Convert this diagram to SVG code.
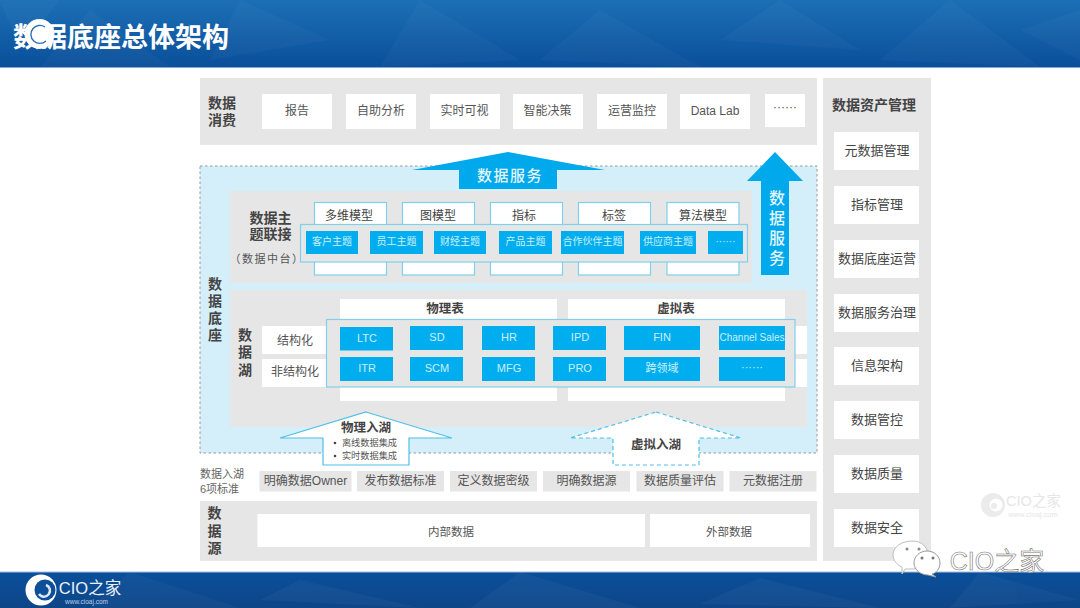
<svg xmlns="http://www.w3.org/2000/svg" width="1080" height="608" viewBox="0 0 1080 608">
<style>
text{font-family:"Liberation Sans","Noto Sans CJK SC",sans-serif;text-anchor:middle;dominant-baseline:central}
.panel{fill:#e6e6e6}
.white{fill:#fff}
.h{font-size:14px;font-weight:700;fill:#444}
.item{font-size:12px;fill:#555}
.side{font-size:13px;fill:#444}
.model{fill:#fff;stroke:#7fd0ea;stroke-width:1.2}
.over{fill:#e6e6e6;stroke:#7fd0ea;stroke-width:1.2}
.chip{fill:#00aeef}
.t1{font-size:10px;fill:#cdeefb}
.t2{font-size:11px;fill:#cdeefb}
.sec{font-size:12.5px;font-weight:700;fill:#444}
.svc{fill:#00a8ec}
.svct{font-weight:500;fill:#e4f6fd}
.std{font-size:12px;fill:#555}
.blt{font-size:9.2px;fill:#555}
</style>
<defs>
<linearGradient id="bar" x1="0" y1="0" x2="0" y2="1"><stop offset="0" stop-color="#1c6fb5"/><stop offset="1" stop-color="#0a4f9b"/></linearGradient>
<linearGradient id="bar2" x1="0" y1="0" x2="0" y2="1"><stop offset="0" stop-color="#0a4f9b"/><stop offset="1" stop-color="#0e4688"/></linearGradient>
</defs>
<rect width="1080" height="608" fill="#fff"/>

<g id="header">
<rect width="1080" height="67.500" fill="url(#bar)"/>
<g fill="#fff" opacity=".025">
<polygon points="0,0 60,0 20,50"/><polygon points="90,10 170,67 40,67"/><polygon points="240,0 330,40 210,60"/><polygon points="420,0 520,60 380,67"/><polygon points="600,10 700,67 540,60"/><polygon points="780,0 860,50 720,40"/><polygon points="950,0 1040,67 880,60"/><polygon points="1080,10 1080,60 1020,30"/>
</g>
<text x="121" y="37.500" font-size="27" font-weight="700" fill="#fff">数据底座总体架构</text>
<circle cx="39.500" cy="34" r="15" fill="#fff"/>
<path d="M45 27a9 9 0 1 0 1 14" fill="none" stroke="#2a6fb0" stroke-width="1.400"/>
</g>

<g id="footer">
<rect y="572" width="1080" height="36" fill="url(#bar2)"/>
<rect y="571.500" width="1080" height="1" fill="#9fc0dd"/>
<g fill="#fff" opacity=".03">
<polygon points="130,572 240,608 90,608"/><polygon points="300,580 420,608 260,600"/><polygon points="520,572 640,608 470,608"/><polygon points="760,578 880,608 700,604"/><polygon points="980,572 1080,600 950,608"/>
</g>
<circle cx="41" cy="590" r="15.500" fill="#fff"/>
<circle cx="45" cy="590" r="10.500" fill="#0d4f98"/>
<path d="M39 594a6 6 0 1 0 7-9" fill="none" stroke="#dbe7f3" stroke-width="2.500"/>
<text x="90" y="587.500" font-size="16.500" fill="#e8f0f8">CIO之家</text>
<text x="86.500" y="601" font-size="6.500" fill="#b9cfe6">www.cioaj.com</text>
</g>

<g id="watermark" opacity=".9">
<circle cx="993" cy="505" r="12" fill="#e9e9e9"/>
<circle cx="996" cy="505" r="6.500" fill="#fff"/>
<circle cx="994" cy="506" r="3" fill="#e9e9e9"/>
<text x="1033.500" y="501" font-size="14.500" fill="#e4e4e4">CIO之家</text>
<text x="1033" y="514" font-size="7.500" fill="#e4e4e4">www.cioaj.com</text>
</g>

<g id="consume">
<rect class="panel" x="200" y="78" width="617" height="67"/>
<text class="h" x="222" y="102.500">数据</text><text class="h" x="222" y="119.500">消费</text>
<g id="c1"><rect class="white" x="262" y="94" width="70" height="35"/><text class="item" x="297" y="110.500">报告</text></g>
<g id="c2"><rect class="white" x="346" y="94" width="70" height="35"/><text class="item" x="381" y="110.500">自助分析</text></g>
<g id="c3"><rect class="white" x="430" y="94" width="70" height="35"/><text class="item" x="464.500" y="110.500">实时可视</text></g>
<g id="c4"><rect class="white" x="513" y="94" width="70" height="35"/><text class="item" x="547.500" y="110.500">智能决策</text></g>
<g id="c5"><rect class="white" x="597" y="94" width="70" height="35"/><text class="item" x="632" y="110.500">运营监控</text></g>
<g id="c6"><rect class="white" x="680" y="94" width="70" height="35"/><text class="item" x="715" y="110.500">Data Lab</text></g>
<g id="c7"><rect class="white" x="765" y="94" width="40" height="33"/><text class="item" x="785" y="107" font-size="10">······</text></g>
</g>

<g id="asset">
<rect class="panel" x="823" y="78" width="108" height="483"/>
<text class="h" x="874" y="105">数据资产管理</text>
<g id="a1"><rect class="white" x="834" y="132" width="85" height="38"/><text class="side" x="877" y="150.500">元数据管理</text></g>
<g id="a2"><rect class="white" x="834" y="186" width="85" height="38"/><text class="side" x="877" y="204.500">指标管理</text></g>
<g id="a3"><rect class="white" x="834" y="240" width="85" height="38"/><text class="side" x="877" y="258.500">数据底座运营</text></g>
<g id="a4"><rect class="white" x="834" y="294" width="85" height="38"/><text class="side" x="877" y="312">数据服务治理</text></g>
<g id="a5"><rect class="white" x="834" y="347" width="85" height="38"/><text class="side" x="877" y="365.500">信息架构</text></g>
<g id="a6"><rect class="white" x="834" y="401" width="85" height="38"/><text class="side" x="877" y="419.500">数据管控</text></g>
<g id="a7"><rect class="white" x="834" y="455" width="85" height="38"/><text class="side" x="877" y="473.500">数据质量</text></g>
<g id="a8"><rect class="white" x="834" y="509" width="85" height="38"/><text class="side" x="877" y="527">数据安全</text></g>
</g>

<g id="base">
<rect x="200" y="166" width="617" height="287" fill="#d4eff9" stroke="#999" stroke-width="1" stroke-dasharray="2.500 2.500"/>
<text class="h" x="215" y="284">数</text><text class="h" x="215" y="301">据</text><text class="h" x="215" y="318">底</text><text class="h" x="215" y="335">座</text>
</g>

<g id="topic">
<rect class="panel" x="230" y="191" width="522" height="92"/>
<text class="h" x="270.500" y="218">数据主</text><text class="h" x="270.500" y="234">题联接</text>
<text x="267" y="258.500" font-size="11" fill="#555" letter-spacing="1.500">（数据中台）</text>
<g id="m1"><rect class="model" x="314.500" y="202.500" width="72" height="72.500"/><text x="349" y="216" font-size="12" fill="#444">多维模型</text></g>
<g id="m2"><rect class="model" x="402.500" y="202.500" width="72" height="72.500"/><text x="438" y="216" font-size="12" fill="#444">图模型</text></g>
<g id="m3"><rect class="model" x="490.500" y="202.500" width="72" height="72.500"/><text x="524" y="216" font-size="12" fill="#444">指标</text></g>
<g id="m4"><rect class="model" x="578.500" y="202.500" width="72" height="72.500"/><text x="614" y="216" font-size="12" fill="#444">标签</text></g>
<g id="m5"><rect class="model" x="667" y="202.500" width="72" height="72.500"/><text x="703" y="216" font-size="12" fill="#444">算法模型</text></g>
<rect class="over" x="300.500" y="224.500" width="447" height="37.500"/>
<g id="t1"><rect class="chip" x="306" y="231" width="52" height="23"/><text class="t1" x="332" y="241.500">客户主题</text></g>
<g id="t2"><rect class="chip" x="370" y="231" width="53" height="23"/><text class="t1" x="396.500" y="241.500">员工主题</text></g>
<g id="t3"><rect class="chip" x="434" y="231" width="52" height="23"/><text class="t1" x="460" y="241.500">财经主题</text></g>
<g id="t4"><rect class="chip" x="499" y="231" width="53" height="23"/><text class="t1" x="525.500" y="241.500">产品主题</text></g>
<g id="t5"><rect class="chip" x="561" y="231" width="63" height="23"/><text class="t1" x="592.500" y="241.500">合作伙伴主题</text></g>
<g id="t6"><rect class="chip" x="640" y="231" width="56" height="23"/><text class="t1" x="668" y="241.500">供应商主题</text></g>
<g id="t7"><rect class="chip" x="708" y="231" width="35" height="23"/><text class="t1" x="725.500" y="241">······</text></g>
</g>

<g id="lake">
<rect class="panel" x="230" y="290" width="577" height="137"/>
<text class="h" x="245" y="335">数</text><text class="h" x="245" y="352">据</text><text class="h" x="245" y="370">湖</text>
<rect class="white" x="340" y="299" width="217" height="102"/>
<rect class="white" x="568" y="299" width="217" height="102"/>
<text class="sec" x="445" y="309">物理表</text>
<text class="sec" x="676" y="309">虚拟表</text>
<rect class="white" x="262" y="326" width="545" height="28"/>
<rect class="white" x="262" y="359" width="545" height="28"/>
<text class="item" x="295" y="341">结构化</text>
<text class="item" x="295" y="372">非结构化</text>
<rect class="over" x="326.500" y="319.500" width="468.500" height="67.500"/>
<g id="l1"><rect class="chip" x="340" y="327" width="53" height="23.500"/><text class="t2" x="367" y="338">LTC</text></g>
<g id="l2"><rect class="chip" x="410" y="326" width="53" height="24"/><text class="t2" x="437" y="337">SD</text></g>
<g id="l3"><rect class="chip" x="482" y="326" width="53" height="24"/><text class="t2" x="509" y="337">HR</text></g>
<g id="l4"><rect class="chip" x="553" y="326" width="53" height="24"/><text class="t2" x="580" y="337">IPD</text></g>
<g id="l5"><rect class="chip" x="624" y="326" width="76" height="24"/><text class="t2" x="662" y="337">FIN</text></g>
<g id="l6"><rect class="chip" x="719" y="326" width="66" height="24"/><text class="t2" x="752" y="337" style="font-size:10px">Channel Sales</text></g>
<g id="l7"><rect class="chip" x="340" y="357" width="53" height="24"/><text class="t2" x="367" y="368">ITR</text></g>
<g id="l8"><rect class="chip" x="410" y="357" width="53" height="24"/><text class="t2" x="437" y="368">SCM</text></g>
<g id="l9"><rect class="chip" x="482" y="357" width="53" height="24"/><text class="t2" x="509" y="368">MFG</text></g>
<g id="l10"><rect class="chip" x="553" y="357" width="53" height="24"/><text class="t2" x="580" y="368">PRO</text></g>
<g id="l11"><rect class="chip" x="624" y="357" width="76" height="24"/><text class="t2" x="662" y="368">跨领域</text></g>
<g id="l12"><rect class="chip" x="719" y="357" width="66" height="24"/><text class="t2" x="752" y="367">······</text></g>
</g>

<g id="connectors">
<g id="service-h">
<polygon class="svc" points="508,152 605,170 557,170 557,189 459,189 459,170 412,170"/>
<text class="svct" x="510" y="175" font-size="15" letter-spacing="1.500">数据服务</text>
</g>
<g id="service-v">
<polygon class="svc" points="775,152 803,181 789,181 789,275 761,275 761,181 747,181"/>
<text class="svct" x="777" y="198" font-size="16">数</text><text class="svct" x="777" y="218" font-size="16">据</text><text class="svct" x="777" y="238" font-size="16">服</text><text class="svct" x="777" y="258" font-size="16">务</text>
</g>
<g id="ingest-physical">
<polygon points="366,412 452,438 409,438 409,465 323,465 323,438 280,438" fill="#fff" stroke="#4fc0e8" stroke-width="1.200"/>
<text class="sec" x="366" y="428">物理入湖</text>
<circle cx="335" cy="443" r="1.300" fill="#444"/><text class="blt" x="369.500" y="443">离线数据集成</text>
<circle cx="335" cy="456" r="1.300" fill="#444"/><text class="blt" x="369.500" y="456">实时数据集成</text>
</g>
<g id="ingest-virtual">
<polygon points="656,412 741,438 699,438 699,465 613,465 613,438 570,438" fill="#fff" stroke="#4fc0e8" stroke-width="1.200" stroke-dasharray="4 3"/>
<text class="sec" x="656" y="445">虚拟入湖</text>
</g>
</g>

<g id="standards">
<text x="200" y="474" font-size="11" fill="#666" style="text-anchor:start">数据入湖</text>
<text x="200" y="489" font-size="11" fill="#666" style="text-anchor:start">6项标准</text>
<g id="s1"><rect class="panel" x="259.500" y="471" width="92" height="20.500"/><text class="std" x="305.500" y="481">明确数据Owner</text></g>
<g id="s2"><rect class="panel" x="357" y="471" width="87" height="20.500"/><text class="std" x="400.500" y="481">发布数据标准</text></g>
<g id="s3"><rect class="panel" x="450" y="471" width="87" height="20.500"/><text class="std" x="493.500" y="481">定义数据密级</text></g>
<g id="s4"><rect class="panel" x="543" y="471" width="87" height="20.500"/><text class="std" x="586.500" y="481">明确数据源</text></g>
<g id="s5"><rect class="panel" x="636.500" y="471" width="87" height="20.500"/><text class="std" x="680" y="481">数据质量评估</text></g>
<g id="s6"><rect class="panel" x="729.500" y="471" width="87" height="20.500"/><text class="std" x="773" y="481">元数据注册</text></g>
</g>

<g id="source">
<rect class="panel" x="200" y="501" width="617" height="60"/>
<text class="h" x="214.500" y="513">数</text><text class="h" x="214.500" y="531">据</text><text class="h" x="214.500" y="548">源</text>
<g id="src1"><rect class="white" x="257.500" y="514" width="387.500" height="33"/><text class="item" x="451" y="532" style="font-size:11.500px">内部数据</text></g>
<g id="src2"><rect class="white" x="650" y="514" width="160" height="33"/><text class="item" x="729" y="532" style="font-size:11.500px">外部数据</text></g>
</g>

<g id="wechat-mark">
<path d="M913 541c8 0 15 6 15 14s-7 14-15 14l-8 0-3 5 0-7c-5-2-9-7-9-12 0-8 8-14 20-14z" fill="#fff" stroke="#bdbdbd"/>
<circle cx="907" cy="549" r="1.500" fill="#888"/><circle cx="919" cy="549" r="1.500" fill="#888"/>
<path d="M927 551c7 0 13 5 13 12 0 6-4 10-8 11l4 3-8-2c-7 0-14-5-14-12 0-7 6-12 13-12z" fill="#fff" stroke="#999"/>
<circle cx="922" cy="558" r="1.500" fill="#777"/><circle cx="933" cy="558" r="1.500" fill="#777"/>
<text x="997" y="561" font-size="25" fill="#fff" stroke="#777" stroke-width=".6">CIO之家</text>
</g>
</svg>
